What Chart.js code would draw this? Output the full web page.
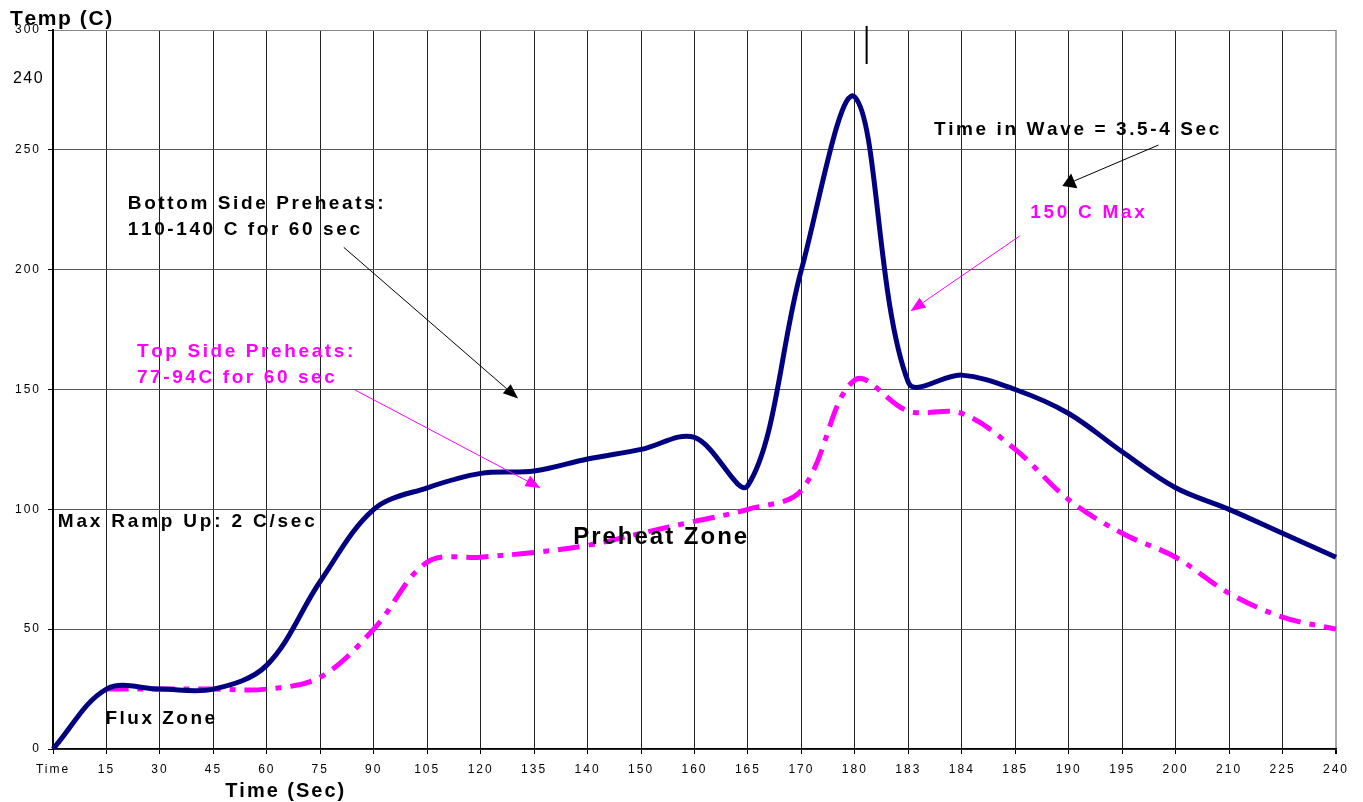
<!DOCTYPE html>
<html>
<head>
<meta charset="utf-8">
<title>Wave Solder Profile</title>
<script src="https://cdn.jsdelivr.net/npm/chart.js@4/dist/chart.umd.min.js"></script>
<style>
  html, body { margin: 0; padding: 0; background: #fff; }
  canvas { display: block; }
</style>
</head>
<body>
<canvas id="profileChart" width="1363" height="802"></canvas>
<script>
// category labels along the bottom
const timeLabels = ['Time', '15', '30', '45', '60', '75', '90', '105', '120', '135', '140', '150',
    '160', '165', '170', '180', '183', '184', '185', '190', '195', '200', '210', '225', '240'];

// bottom side (navy, solid)
const bottomSideTemps = [0, 25, 25, 25, 35, 70, 100, 109, 115, 116, 121, 125,
    130, 110, 200, 272, 153, 156, 150, 140, 124, 109, 100, 90, 80];

// top side (magenta, dash-dot) - no reading at "Time"
const topSideTemps = [null, 25, 25, 25, 25, 30, 50, 78, 80, 82, 85, 90,
    95, 100, 108, 154, 141, 140, 125, 104, 90, 80, 65, 55, 50];

const tempMin = 0;
const tempMax = 300;
const tempStep = 50;

const NAVY = '#000080';
const PINK = '#FF00FF';
const FONT = "'Liberation Sans', Arial, sans-serif";

// text boxes, placed in chart units (category index, temperature)
const notes = [
    { text: 'Temp (C)', at: [-0.805, 302.1], color: '#000', size: 21, bold: true, spacing: 1.6 },
    { text: '240', at: [-0.75, 277.9], color: '#000', size: 16, bold: false, spacing: 1.5 },
    { text: 'Bottom Side Preheats:', at: [1.40, 225.3], color: '#000', size: 19, bold: true, spacing: 2.6 },
    { text: '110-140 C for 60 sec', at: [1.40, 214.5], color: '#000', size: 19, bold: true, spacing: 2.6 },
    { text: 'Top Side Preheats:', at: [1.57, 163.6], color: PINK, size: 19, bold: true, spacing: 2.6 },
    { text: '77-94C for 60 sec', at: [1.57, 152.7], color: PINK, size: 19, bold: true, spacing: 2.6 },
    { text: 'Max Ramp Up: 2 C/sec', at: [0.09, 92.6], color: '#000', size: 19, bold: true, spacing: 2.8 },
    { text: 'Preheat Zone', at: [9.73, 85.5], color: '#000', size: 24, bold: true, spacing: 2.0 },
    { text: 'Flux Zone', at: [0.98, 10.4], color: '#000', size: 19, bold: true, spacing: 2.5 },
    { text: 'Time in Wave = 3.5-4 Sec', at: [16.48, 256.2], color: '#000', size: 19, bold: true, spacing: 2.6 },
    { text: '150 C Max', at: [18.28, 221.4], color: PINK, size: 19, bold: true, spacing: 2.7 },
    { text: 'Time (Sec)', at: [3.22, -20.0], color: '#000', size: 20, bold: true, spacing: 2.0 }
];

const arrows = [
    { from: [5.44, 209.3], to: [8.70, 146.2], color: '#000', len: 15, half: 6 },
    { from: [5.65, 149.8], to: [9.12, 108.9], color: PINK, len: 15, half: 6 },
    { from: [20.68, 252.0], to: [18.88, 234.9], color: '#000', len: 13, half: 8 },
    { from: [18.08, 214.0], to: [16.04, 182.7], color: PINK, len: 15, half: 6 }
];

const marker = { x: 15.22, from: 301.7, to: 285.8 };

function spacedText(ctx, str, x, y, spacing) {
    let cx = x;
    for (const ch of str) {
        ctx.fillText(ch, cx, y);
        cx += ctx.measureText(ch).width + spacing;
    }
}

const annotationPlugin = {
    id: 'annotations',
    beforeDraw(chart) {
        // the original axis labels are letter-spaced
        chart.ctx.letterSpacing = '2px';
    },
    afterDraw(chart) {
        const ctx = chart.ctx;
        const xs = chart.scales.x;
        const ys = chart.scales.y;
        const px = v => xs.getPixelForValue(v);
        const py = v => ys.getPixelForValue(v);

        ctx.save();
        ctx.letterSpacing = '0px';
        ctx.textBaseline = 'alphabetic';
        ctx.textAlign = 'left';

        notes.forEach(n => {
            ctx.font = (n.bold ? 'bold ' : '') + n.size + 'px ' + FONT;
            ctx.fillStyle = n.color;
            spacedText(ctx, n.text, px(n.at[0]), py(n.at[1]), n.spacing);
        });

        arrows.forEach(a => {
            const x1 = px(a.from[0]), y1 = py(a.from[1]);
            const x2 = px(a.to[0]), y2 = py(a.to[1]);
            const ang = Math.atan2(y2 - y1, x2 - x1);
            const bx = x2 - a.len * Math.cos(ang);
            const by = y2 - a.len * Math.sin(ang);
            ctx.strokeStyle = a.color;
            ctx.fillStyle = a.color;
            ctx.lineWidth = 1;
            ctx.beginPath();
            ctx.moveTo(x1, y1);
            ctx.lineTo(bx, by);
            ctx.stroke();
            ctx.beginPath();
            ctx.moveTo(x2, y2);
            ctx.lineTo(bx + a.half * Math.sin(ang), by - a.half * Math.cos(ang));
            ctx.lineTo(bx - a.half * Math.sin(ang), by + a.half * Math.cos(ang));
            ctx.closePath();
            ctx.fill();
        });

        ctx.strokeStyle = '#000';
        ctx.lineWidth = 2;
        ctx.beginPath();
        ctx.moveTo(px(marker.x), py(marker.from));
        ctx.lineTo(px(marker.x), py(marker.to));
        ctx.stroke();

        ctx.restore();
    }
};

const ctx = document.getElementById('profileChart').getContext('2d');
new Chart(ctx, {
    type: 'line',
    data: {
        labels: timeLabels,
        datasets: [
            {
                label: 'Bottom Side',
                data: bottomSideTemps,
                borderColor: NAVY,
                borderWidth: 5,
                tension: 0.35,
                pointRadius: 0,
                fill: false
            },
            {
                label: 'Top Side',
                data: topSideTemps,
                borderColor: PINK,
                borderWidth: 5,
                borderDash: [22, 9, 6, 9],
                tension: 0.35,
                pointRadius: 0,
                fill: false
            }
        ]
    },
    options: {
        responsive: false,
        animation: false,
        layout: {
            padding: { left: 0, top: 30, right: 27, bottom: 0 }
        },
        plugins: {
            legend: { display: false },
            title: { display: false },
            tooltip: { enabled: false }
        },
        scales: {
            x: {
                offset: false,
                grid: {
                    color: c => c.index === timeLabels.length - 1 ? '#aaaaaa' : '#222222',
                    lineWidth: c => c.index === timeLabels.length - 1 ? 2 : 1,
                    tickColor: '#000',
                    tickLength: 5
                },
                border: { color: '#000', width: 1.5 },
                ticks: {
                    autoSkip: false,
                    maxRotation: 0,
                    padding: 8,
                    color: '#000',
                    font: { family: FONT, size: 12 }
                },
                afterFit(scale) {
                    scale.height = 53;
                    scale.paddingLeft = 0;
                    scale.paddingRight = 0;
                }
            },
            y: {
                min: tempMin,
                max: tempMax,
                grid: {
                    color: c => c.tick && c.tick.value === tempMax ? '#888888' : '#555555',
                    tickColor: '#000',
                    tickLength: 5
                },
                border: { color: '#000', width: 2 },
                ticks: {
                    stepSize: tempStep,
                    padding: 7,
                    color: '#000',
                    font: { family: FONT, size: 12 }
                },
                afterFit(scale) {
                    scale.width = 53;
                    scale.paddingTop = 0;
                    scale.paddingBottom = 0;
                }
            }
        }
    },
    plugins: [annotationPlugin]
});
</script>
</body>
</html>
